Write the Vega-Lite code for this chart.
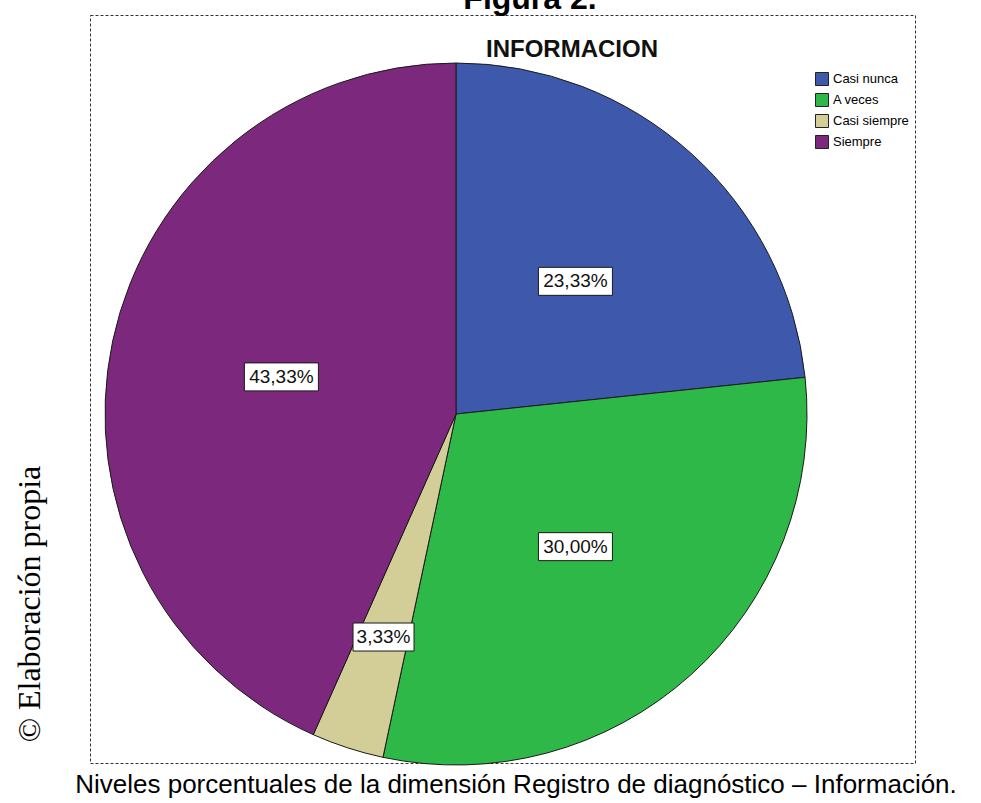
{
  "$schema": "https://vega.github.io/schema/vega-lite/v6.json",
  "width": 825,
  "height": 748,
  "autosize": {"type": "none"},
  "padding": {"left": 90, "top": 15, "right": 66, "bottom": 40},
  "background": "white",
  "config": {
    "view": {"stroke": "#333333", "strokeDash": [3, 2], "strokeWidth": 1},
    "font": "Liberation Sans"
  },
  "data": {
    "values": [
      {"categoria": "Casi nunca", "porcentaje": 23.33, "orden": 1},
      {"categoria": "A veces", "porcentaje": 30.0, "orden": 2},
      {"categoria": "Casi siempre", "porcentaje": 3.33, "orden": 3},
      {"categoria": "Siempre", "porcentaje": 43.33, "orden": 4}
    ]
  },
  "layer": [
    {
      "mark": {"type": "arc", "outerRadius": 351, "x": 366, "y": 399, "stroke": "#1a1a1a", "strokeWidth": 1},
      "encoding": {
        "theta": {"field": "porcentaje", "type": "quantitative", "stack": true},
        "order": {"field": "orden", "type": "quantitative"},
        "color": {
          "field": "categoria",
          "type": "nominal",
          "scale": {
            "domain": ["Casi nunca", "A veces", "Casi siempre", "Siempre"],
            "range": ["#3E58AC", "#2EB848", "#D3CE97", "#7C287D"]
          },
          "legend": {
            "orient": "none",
            "legendX": 725,
            "legendY": 57,
            "title": null,
            "padding": 0,
            "symbolType": "square",
            "symbolSize": 169,
            "symbolStrokeColor": "#222222",
            "symbolStrokeWidth": 1,
            "symbolOpacity": 1,
            "labelFont": "Liberation Sans",
            "labelFontSize": 13,
            "labelColor": "#000000",
            "labelOffset": 4,
            "rowPadding": 3
          }
        }
      }
    },
    {
      "transform": [
        {"window": [{"op": "sum", "field": "porcentaje", "as": "acum"}], "sort": [{"field": "orden"}], "frame": [null, 0]},
        {"calculate": "(datum.acum - datum.porcentaje / 2) / 99.99 * 2 * PI", "as": "medio"},
        {"calculate": "datum.porcentaje < 10 ? 0.67 : 0.51", "as": "rr"},
        {"calculate": "datum.rr * sin(datum.medio)", "as": "lx"},
        {"calculate": "datum.rr * cos(datum.medio)", "as": "ly"},
        {"calculate": "replace(format(datum.porcentaje, '.2f'), '.', ',') + '%'", "as": "etiqueta"}
      ],
      "encoding": {
        "x": {"field": "lx", "type": "quantitative", "scale": {"domain": [-1, 1], "range": [16, 716], "nice": false, "zero": false}, "axis": null},
        "y": {"field": "ly", "type": "quantitative", "scale": {"domain": [-1, 1], "range": [749, 49], "nice": false, "zero": false}, "axis": null}
      },
      "layer": [
        {
          "mark": {"type": "point", "filled": true, "fill": "white", "stroke": "#1a1a1a", "strokeWidth": 1, "opacity": 1},
          "encoding": {
            "shape": {"condition": {"test": "datum.porcentaje < 10", "value": "M-1,-0.459H1V0.459H-1Z"}, "value": "M-1,-0.378H1V0.378H-1Z"},
            "size": {"condition": {"test": "datum.porcentaje < 10", "value": 3721}, "value": 5476}
          }
        },
        {
          "mark": {"type": "text", "font": "Liberation Sans", "fontSize": 19, "color": "#111111", "align": "center", "baseline": "middle"},
          "encoding": {"text": {"field": "etiqueta", "type": "nominal"}}
        }
      ]
    },
    {
      "data": {"values": [{"t": "Figura 2."}]},
      "mark": {"type": "text", "x": 440, "y": -6, "font": "Liberation Sans", "fontSize": 32, "fontWeight": "bold", "align": "center", "baseline": "alphabetic", "color": "#000000"},
      "encoding": {"text": {"field": "t", "type": "nominal"}}
    },
    {
      "data": {"values": [{"t": "INFORMACION"}]},
      "mark": {"type": "text", "x": 482, "y": 42, "font": "Liberation Sans", "fontSize": 24, "fontWeight": "bold", "align": "center", "baseline": "alphabetic", "color": "#111111"},
      "encoding": {"text": {"field": "t", "type": "nominal"}}
    },
    {
      "data": {"values": [{"t": "Niveles porcentuales de la dimensión Registro de diagnóstico – Información."}]},
      "mark": {"type": "text", "x": 426, "y": 778, "font": "Liberation Sans", "fontSize": 26, "align": "center", "baseline": "alphabetic", "color": "#000000"},
      "encoding": {"text": {"field": "t", "type": "nominal"}}
    },
    {
      "data": {"values": [{"t": "© Elaboración propia"}]},
      "mark": {"type": "text", "x": -50, "y": 589, "angle": 270, "font": "Liberation Serif", "fontSize": 32, "align": "center", "baseline": "alphabetic", "color": "#000000"},
      "encoding": {"text": {"field": "t", "type": "nominal"}}
    }
  ]
}
